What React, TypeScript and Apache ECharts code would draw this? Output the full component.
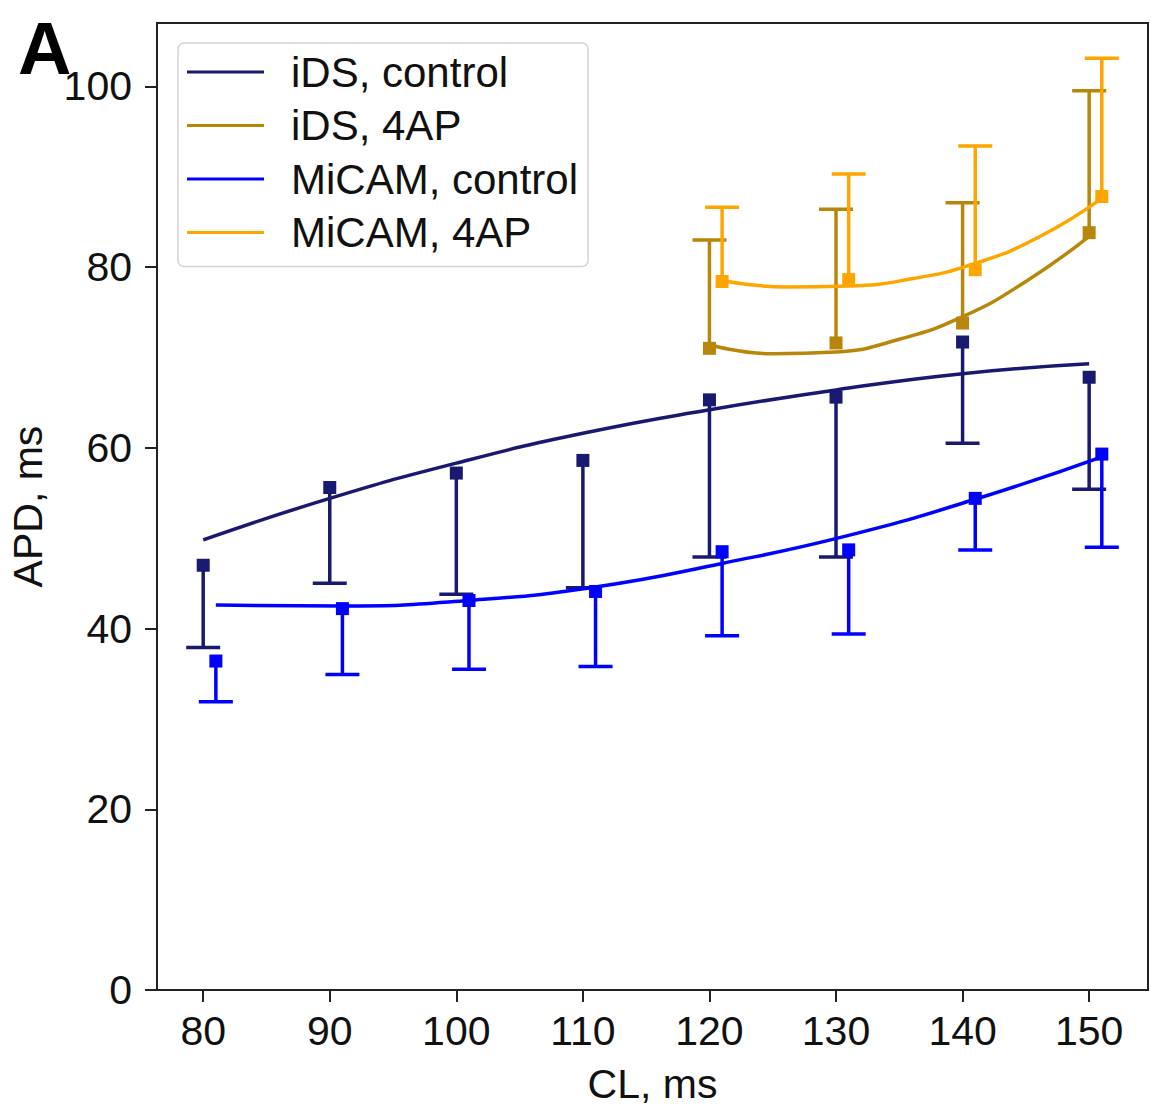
import React, { useEffect, useRef } from 'react';
import * as echarts from 'echarts';

// ---- data ----
const clIDS = [80, 90, 100, 110, 120, 130, 140, 150];
const clMiCAM = [81, 91, 101, 111, 121, 131, 141, 151];
const idsControlMean = [47.0, 55.6, 57.2, 58.6, 65.3, 65.6, 71.7, 67.8];
const idsControlLow = [37.9, 45.0, 43.8, 44.5, 47.9, 47.9, 60.5, 55.4];
const micamControlMean = [36.4, 42.2, 43.1, 44.1, 48.5, 48.7, 54.4, 59.3];
const micamControlLow = [31.9, 34.9, 35.5, 35.8, 39.2, 39.4, 48.7, 49.0];

const cl4apIDS = [120, 130, 140, 150];
const cl4apMiCAM = [121, 131, 141, 151];
const ids4apMean = [71.0, 71.6, 73.8, 83.8];
const ids4apHigh = [83.0, 86.4, 87.1, 99.5];
const micam4apMean = [78.4, 78.6, 79.7, 87.8];
const micam4apHigh = [86.6, 90.3, 93.4, 103.1];

// fitted curves
const fitIdsControlX = [80, 90, 100, 110, 120, 130, 140, 150];
const fitIdsControlY = [49.8, 54.4, 58.3, 61.6, 64.2, 66.4, 68.2, 69.3];
const fitMicamControlX = [81, 91, 101, 111, 121, 131, 141, 151];
const fitMicamControlY = [42.6, 42.5, 43.1, 44.6, 47.2, 50.3, 54.3, 59.0];
const fitIds4apX = [120, 125, 130, 135, 140, 145, 150];
const fitIds4apY = [71.4, 70.4, 70.6, 72.0, 74.5, 78.4, 83.4];
const fitMicam4apX = [121, 126, 131, 136, 141, 146, 151];
const fitMicam4apY = [78.5, 77.8, 77.9, 78.7, 80.4, 83.3, 87.6];

const xTicks = [80, 90, 100, 110, 120, 130, 140, 150];
const yTicks = [0, 20, 40, 60, 80, 100];

const seriesNames = ['iDS, control', 'iDS, 4AP', 'MiCAM, control', 'MiCAM, 4AP'];
const seriesColors = ['#191970', '#b8860b', '#0000ff', '#ffa500'];

const FONT = '"Liberation Sans", Arial, Helvetica, sans-serif';

function zip(xs: number[], ys: number[]) {
  return xs.map((x, i) => [x, ys[i]]);
}
function zip3(xs: number[], ys: number[], es: number[]) {
  return xs.map((x, i) => [x, ys[i], es[i]]);
}

function errorSeries(name: string, color: string, data: number[][]) {
  return {
    type: 'custom',
    name: name + ' err',
    silent: true,
    data,
    encode: { x: 0, y: [1, 2] },
    renderItem: (params: any, api: any) => {
      const x = api.value(0);
      const y = api.value(1);
      const yEnd = api.value(2);
      const p0 = api.coord([x, y]);
      const p1 = api.coord([x, yEnd]);
      const half = 17;
      return {
        type: 'group',
        children: [
          {
            type: 'line',
            shape: { x1: p0[0], y1: p0[1], x2: p1[0], y2: p1[1] },
            style: { stroke: color, lineWidth: 3.5 },
          },
          {
            type: 'line',
            shape: { x1: p1[0] - half, y1: p1[1], x2: p1[0] + half, y2: p1[1] },
            style: { stroke: color, lineWidth: 3.5 },
          },
        ],
      };
    },
  };
}

function markerSeries(name: string, color: string, data: number[][]) {
  return {
    type: 'scatter',
    name: name + ' mean',
    silent: true,
    symbol: 'rect',
    symbolSize: 13,
    itemStyle: { color, opacity: 1 },
    data,
  };
}

function fitSeries(name: string, color: string, data: number[][]) {
  return {
    type: 'line',
    name,
    silent: true,
    smooth: true,
    symbol: 'none',
    showSymbol: false,
    itemStyle: { color },
    lineStyle: { color, width: 3.5 },
    data,
  };
}

export default function App() {
  const ref = useRef<HTMLDivElement>(null);

  useEffect(() => {
    if (!ref.current) return;
    const chart = echarts.init(ref.current, undefined, { renderer: 'svg' });

    const groups = [
      {
        err: zip3(clIDS, idsControlMean, idsControlLow),
        pts: zip(clIDS, idsControlMean),
        fit: zip(fitIdsControlX, fitIdsControlY),
      },
      {
        err: zip3(cl4apIDS, ids4apMean, ids4apHigh),
        pts: zip(cl4apIDS, ids4apMean),
        fit: zip(fitIds4apX, fitIds4apY),
      },
      {
        err: zip3(clMiCAM, micamControlMean, micamControlLow),
        pts: zip(clMiCAM, micamControlMean),
        fit: zip(fitMicamControlX, fitMicamControlY),
      },
      {
        err: zip3(cl4apMiCAM, micam4apMean, micam4apHigh),
        pts: zip(cl4apMiCAM, micam4apMean),
        fit: zip(fitMicam4apX, fitMicam4apY),
      },
    ];

    const series: any[] = [];
    groups.forEach((g, i) => {
      series.push(errorSeries(seriesNames[i], seriesColors[i], g.err));
      series.push(markerSeries(seriesNames[i], seriesColors[i], g.pts));
      series.push(fitSeries(seriesNames[i], seriesColors[i], g.fit));
    });

    const axisCommon = {
      axisLine: { show: true, lineStyle: { color: '#222', width: 2 } },
      axisTick: { show: true, inside: false, length: 12, lineStyle: { color: '#222', width: 2 } },
      splitLine: { show: false },
      nameTextStyle: { fontSize: 41, color: '#111', fontFamily: FONT },
    };

    chart.setOption({
      animation: false,
      backgroundColor: '#ffffff',
      title: {
        text: 'A',
        left: 13,
        top: 6,
        textStyle: { fontSize: 74, fontWeight: 'bold', color: '#000', fontFamily: FONT },
      },
      grid: {
        left: 157,
        right: 3,
        top: 23,
        bottom: 118,
        show: true,
        borderColor: '#222',
        borderWidth: 2,
        backgroundColor: 'transparent',
        containLabel: false,
        outerBoundsMode: 'none',
      },
      legend: {
        orient: 'vertical',
        left: 178,
        top: 43,
        data: seriesNames,
        icon: 'rect',
        itemWidth: 77,
        itemHeight: 3,
        itemGap: 9.5,
        padding: [7, 10, 12, 9],
        backgroundColor: '#ffffff',
        borderColor: '#d4d4d4',
        borderWidth: 1.5,
        borderRadius: 6,
        selectedMode: false,
        textStyle: {
          fontSize: 42,
          fontFamily: FONT,
          color: '#111',
          lineHeight: 44,
          padding: [0, 0, 0, 22],
        },
      },
      xAxis: {
        type: 'value',
        min: 76.35,
        max: 154.65,
        name: 'CL, ms',
        nameLocation: 'middle',
        nameGap: 73,
        ...axisCommon,
        axisTick: { ...axisCommon.axisTick, customValues: xTicks },
        axisLabel: {
          customValues: xTicks,
          fontSize: 41,
          color: '#111',
          fontFamily: FONT,
          margin: 20,
        },
      },
      yAxis: {
        type: 'value',
        min: 0,
        max: 107,
        name: 'APD, ms',
        nameLocation: 'middle',
        nameGap: 109,
        ...axisCommon,
        axisTick: { ...axisCommon.axisTick, customValues: yTicks },
        axisLabel: {
          customValues: yTicks,
          fontSize: 41,
          color: '#111',
          fontFamily: FONT,
          margin: 25,
        },
      },
      series,
    });

    return () => {
      chart.dispose();
    };
  }, []);

  return (
    <div
      ref={ref}
      style={{ position: 'fixed', left: 0, top: 0, width: 1151, height: 1108, background: '#fff' }}
    />
  );
}
